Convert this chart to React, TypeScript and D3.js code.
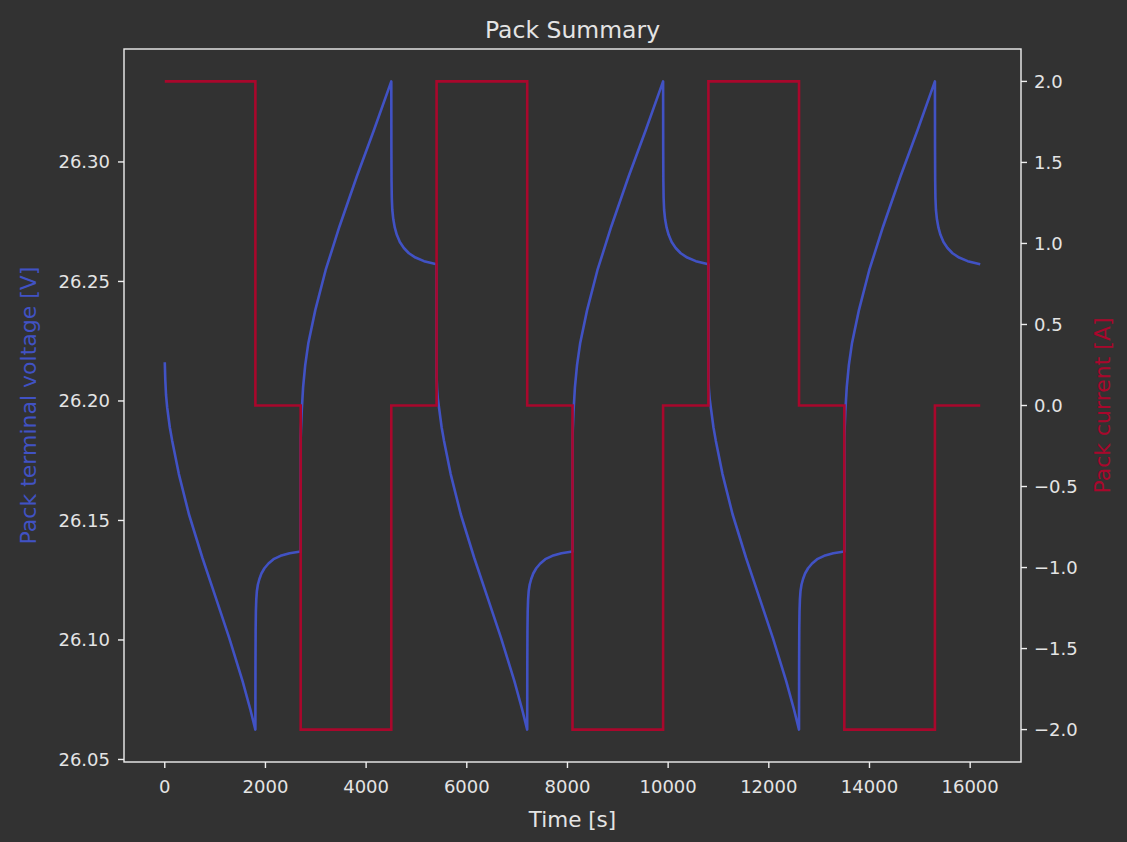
import React from "react";
import * as d3 from "d3";

// ---- data ----
const xTicks = [0, 2000, 4000, 6000, 8000, 10000, 12000, 14000, 16000];
const leftTicks = [26.05, 26.1, 26.15, 26.2, 26.25, 26.3];
const rightTicks = [-2.0, -1.5, -1.0, -0.5, 0.0, 0.5, 1.0, 1.5, 2.0];

// pack current [A] step profile: [time s, current A]
const currentSeries: [number, number][] = [
  [0, 2], [1800, 2], [1800, 0], [2700, 0], [2700, -2], [4500, -2], [4500, 0], [5400, 0],
  [5400, 2], [7200, 2], [7200, 0], [8100, 0], [8100, -2], [9900, -2], [9900, 0], [10800, 0],
  [10800, 2], [12600, 2], [12600, 0], [13500, 0], [13500, -2], [15300, -2], [15300, 0], [16200, 0],
];

// pack terminal voltage [V]: [time s, voltage V]
const voltageCycle1: [number, number][] = [
  [0, 26.2162], [10, 26.209], [25, 26.2025], [47, 26.1974], [100, 26.189], [147, 26.1834],
  [280, 26.1694], [480, 26.1526], [747, 26.1344], [1013, 26.1177], [1280, 26.1009],
  [1547, 26.0827], [1700, 26.0709], [1800, 26.0625],
  [1802, 26.09], [1805, 26.104], [1810, 26.112], [1818, 26.117], [1830, 26.1205],
  [1850, 26.1232], [1880, 26.1255], [1920, 26.1278], [1980, 26.13], [2060, 26.132],
  [2160, 26.1338], [2300, 26.1352], [2480, 26.1363], [2700, 26.137],
  [2701, 26.1847], [2705, 26.1876], [2720, 26.1955], [2748, 26.2057], [2790, 26.215],
  [2851, 26.224], [2989, 26.2379], [3195, 26.2547], [3469, 26.2729], [3813, 26.2938],
  [4156, 26.3134], [4500, 26.3337],
  [4502, 26.305], [4505, 26.292], [4510, 26.285], [4520, 26.28], [4540, 26.276],
  [4570, 26.2725], [4610, 26.2695], [4670, 26.2665], [4750, 26.264], [4850, 26.2618],
  [4980, 26.26], [5150, 26.2585], [5400, 26.2572],
];
const voltageCycle2: [number, number][] = [
  [5401, 26.2095], [5410, 26.205], [5425, 26.201], [5447, 26.1974], [5500, 26.189], [5547, 26.1834],
  [5680, 26.1694], [5880, 26.1526], [6147, 26.1344], [6413, 26.1177], [6680, 26.1009],
  [6947, 26.0827], [7100, 26.0709], [7200, 26.0625],
  [7202, 26.09], [7205, 26.104], [7210, 26.112], [7218, 26.117], [7230, 26.1205],
  [7250, 26.1232], [7280, 26.1255], [7320, 26.1278], [7380, 26.13], [7460, 26.132],
  [7560, 26.1338], [7700, 26.1352], [7880, 26.1363], [8100, 26.137],
  [8101, 26.1847], [8105, 26.1876], [8120, 26.1955], [8148, 26.2057], [8190, 26.215],
  [8251, 26.224], [8389, 26.2379], [8595, 26.2547], [8869, 26.2729], [9213, 26.2938],
  [9556, 26.3134], [9900, 26.3337],
  [9902, 26.305], [9905, 26.292], [9910, 26.285], [9920, 26.28], [9940, 26.276],
  [9970, 26.2725], [10010, 26.2695], [10070, 26.2665], [10150, 26.264], [10250, 26.2618],
  [10380, 26.26], [10550, 26.2585], [10800, 26.2572],
];
const voltageCycle3: [number, number][] = [
  [10801, 26.2095], [10810, 26.205], [10825, 26.201], [10847, 26.1974], [10900, 26.189], [10947, 26.1834],
  [11080, 26.1694], [11280, 26.1526], [11547, 26.1344], [11813, 26.1177], [12080, 26.1009],
  [12347, 26.0827], [12500, 26.0709], [12600, 26.0625],
  [12602, 26.09], [12605, 26.104], [12610, 26.112], [12618, 26.117], [12630, 26.1205],
  [12650, 26.1232], [12680, 26.1255], [12720, 26.1278], [12780, 26.13], [12860, 26.132],
  [12960, 26.1338], [13100, 26.1352], [13280, 26.1363], [13500, 26.137],
  [13501, 26.1847], [13505, 26.1876], [13520, 26.1955], [13548, 26.2057], [13590, 26.215],
  [13651, 26.224], [13789, 26.2379], [13995, 26.2547], [14269, 26.2729], [14613, 26.2938],
  [14956, 26.3134], [15300, 26.3337],
  [15302, 26.305], [15305, 26.292], [15310, 26.285], [15320, 26.28], [15340, 26.276],
  [15370, 26.2725], [15410, 26.2695], [15470, 26.2665], [15550, 26.264], [15650, 26.2618],
  [15780, 26.26], [15950, 26.2585], [16200, 26.2572],
];
const voltageSeries = [...voltageCycle1, ...voltageCycle2, ...voltageCycle3];

// ---- layout / style ----
const W = 1127;
const H = 842;
const M = { left: 124, right: 1021, top: 49, bottom: 762 };
const BG = "#323232";
const FG = "#e4e4e4";
const SPINE = "#eeeeee";
const BLUE = "#4152c4";
const RED = "#a9072c";
const FONT = "'DejaVu Sans', sans-serif";

function padded(min: number, max: number): [number, number] {
  const p = (max - min) * 0.05;
  return [min - p, max + p];
}

export default function App() {
  const tExt = d3.extent(voltageSeries, (d) => d[0]) as [number, number];
  const vExt = d3.extent(voltageSeries, (d) => d[1]) as [number, number];
  const iExt = d3.extent(currentSeries, (d) => d[1]) as [number, number];

  const x = d3.scaleLinear().domain(padded(tExt[0], tExt[1])).range([M.left, M.right]);
  const yV = d3.scaleLinear().domain(padded(vExt[0], vExt[1])).range([M.bottom, M.top]);
  const yI = d3.scaleLinear().domain(padded(iExt[0], iExt[1])).range([M.bottom, M.top]);

  const vLine = d3
    .line<[number, number]>()
    .x((d) => x(d[0]))
    .y((d) => yV(d[1]));
  const iLine = d3
    .line<[number, number]>()
    .x((d) => x(d[0]))
    .y((d) => yI(d[1]));

  const tickLen = 6;
  const tickFs = 18;

  return (
    <svg
      width={W}
      height={H}
      style={{ position: "absolute", left: 0, top: 0, background: BG }}
      fontFamily={FONT}
    >
      <rect x={0} y={0} width={W} height={H} fill={BG} />
      <text x={(M.left + M.right) / 2} y={38} textAnchor="middle" fontSize={23.5} fill={FG}>
        Pack Summary
      </text>

      <path d={vLine(voltageSeries) || ""} fill="none" stroke={BLUE} strokeWidth={2.6} strokeLinejoin="round" />
      <path d={iLine(currentSeries) || ""} fill="none" stroke={RED} strokeWidth={2.6} strokeLinejoin="miter" />

      {/* spines */}
      <rect
        x={M.left}
        y={M.top}
        width={M.right - M.left}
        height={M.bottom - M.top}
        fill="none"
        stroke={SPINE}
        strokeWidth={1.4}
      />

      {/* x axis */}
      {xTicks.map((t) => (
        <g key={"x" + t}>
          <line x1={x(t)} x2={x(t)} y1={M.bottom} y2={M.bottom + tickLen} stroke={SPINE} strokeWidth={1.4} />
          <text x={x(t)} y={M.bottom + 31} textAnchor="middle" fontSize={tickFs} fill={FG}>
            {t}
          </text>
        </g>
      ))}
      <text x={(M.left + M.right) / 2} y={827} textAnchor="middle" fontSize={21.5} fill={FG}>
        Time [s]
      </text>

      {/* left axis */}
      {leftTicks.map((v) => (
        <g key={"l" + v}>
          <line x1={M.left - tickLen} x2={M.left} y1={yV(v)} y2={yV(v)} stroke={SPINE} strokeWidth={1.4} />
          <text x={M.left - tickLen - 8} y={yV(v)} dy="0.36em" textAnchor="end" fontSize={tickFs} fill={FG}>
            {v.toFixed(2)}
          </text>
        </g>
      ))}
      <text
        transform={`translate(36, ${(M.top + M.bottom) / 2}) rotate(-90)`}
        textAnchor="middle"
        fontSize={22}
        fill={BLUE}
      >
        Pack terminal voltage [V]
      </text>

      {/* right axis */}
      {rightTicks.map((v) => (
        <g key={"r" + v}>
          <line x1={M.right} x2={M.right + tickLen} y1={yI(v)} y2={yI(v)} stroke={SPINE} strokeWidth={1.4} />
          <text x={M.right + tickLen + 7} y={yI(v)} dy="0.36em" textAnchor="start" fontSize={tickFs} fill={FG}>
            {v < 0 ? "\u2212" + Math.abs(v).toFixed(1) : v.toFixed(1)}
          </text>
        </g>
      ))}
      <text
        transform={`translate(1110, ${(M.top + M.bottom) / 2}) rotate(-90)`}
        textAnchor="middle"
        fontSize={22}
        fill={RED}
      >
        Pack current [A]
      </text>
    </svg>
  );
}
